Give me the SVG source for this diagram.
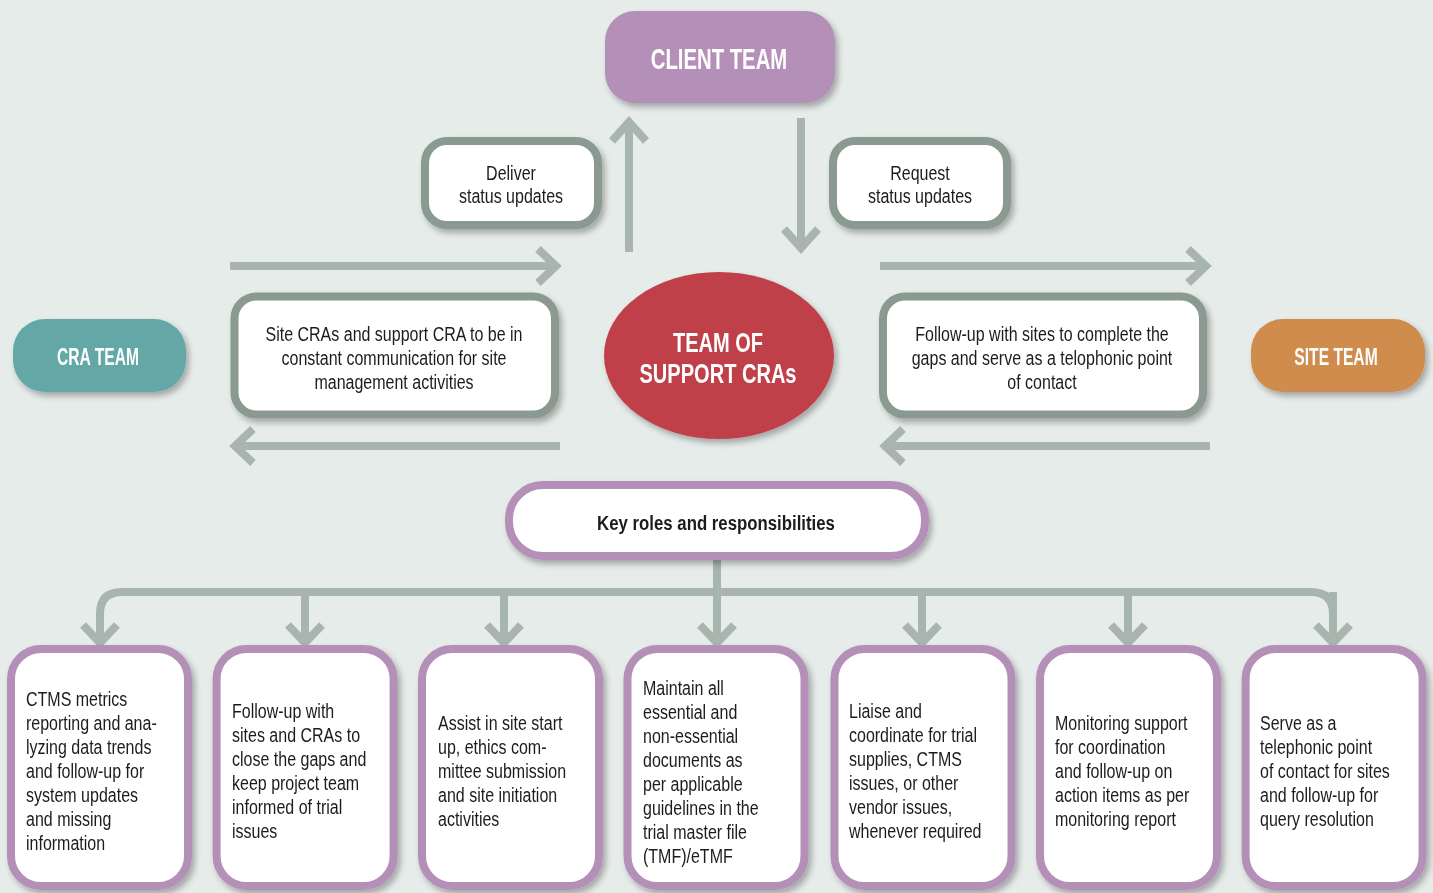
<svg xmlns="http://www.w3.org/2000/svg" width="1433" height="893" viewBox="0 0 1433 893">
<defs>
<filter id="sh" x="-20%" y="-20%" width="140%" height="150%">
<feGaussianBlur in="SourceAlpha" stdDeviation="3"/>
<feOffset dx="3" dy="4" result="b"/>
<feComponentTransfer><feFuncA type="linear" slope="0.3"/></feComponentTransfer>
<feMerge><feMergeNode/><feMergeNode in="SourceGraphic"/></feMerge>
</filter>
</defs>
<style>
text{font-family:"Liberation Sans",Arial,sans-serif;}
.team{font-weight:bold;fill:#fff;text-anchor:middle;}
.gbox{fill:#fff;stroke:#8a9a90;stroke-width:8;}
.pbox{fill:#fff;stroke:#b48fb8;stroke-width:8;}
.t{font-size:20px;fill:#1e1b1c;}
.c{text-anchor:middle;}
.ar{fill:none;stroke:#a8b5ae;stroke-width:8;stroke-linecap:butt;}
</style>
<rect width="1433" height="893" fill="#e6ecea"/>
<g id="connectors">
<path class="ar" d="M629 252V124M612 141L629 122L646 141"/>
<path class="ar" d="M801 118V246M784 229L801 248L818 229"/>
<path class="ar" d="M230 266H553M538 249L556 266L538 283"/>
<path class="ar" d="M880 266H1203M1188 249L1206 266L1188 283"/>
<path class="ar" d="M560 446H238M253 429L235 446L253 463"/>
<path class="ar" d="M1210 446H888M903 429L885 446L903 463"/>
<path class="ar" d="M717 558V592M100 640V614Q100 592 122 592H1311Q1333 592 1333 614V640M305 592V640M504 592V640M717 592V640M922 592V640M1128 592V640M1333 592V640"/>
<path class="ar" d="M83 625L100 643L117 625M288 625L305 643L322 625M487 625L504 643L521 625M700 625L717 643L734 625M905 625L922 643L939 625M1111 625L1128 643L1145 625M1316 625L1333 643L1350 625"/>
</g>
<g id="client" filter="url(#sh)">
<rect x="605" y="11" width="230" height="92" rx="30" fill="#b48fb8"/>
<text class="team" transform="translate(719 0) scale(0.7 1)" x="0" y="69" style="font-size:29px">CLIENT TEAM</text>
</g>
<g id="deliver" filter="url(#sh)">
<rect class="gbox" x="425" y="141" width="173" height="84" rx="22"/>
<text class="t c" transform="translate(511 0) scale(0.8 1)" x="0" y="180">Deliver</text>
<text class="t c" transform="translate(511 0) scale(0.8 1)" x="0" y="203">status updates</text>
</g>
<g id="request" filter="url(#sh)">
<rect class="gbox" x="833" y="141" width="174" height="84" rx="22"/>
<text class="t c" transform="translate(920 0) scale(0.8 1)" x="0" y="180">Request</text>
<text class="t c" transform="translate(920 0) scale(0.8 1)" x="0" y="203">status updates</text>
</g>
<g id="cra" filter="url(#sh)">
<rect x="13" y="319" width="173" height="73" rx="32" fill="#63a8a6"/>
<text class="team" transform="translate(98 0) scale(0.68 1)" x="0" y="365" style="font-size:23px">CRA TEAM</text>
</g>
<g id="site" filter="url(#sh)">
<rect x="1251" y="319" width="174" height="73" rx="32" fill="#cf8c4e"/>
<text class="team" transform="translate(1336 0) scale(0.68 1)" x="0" y="365" style="font-size:23px">SITE TEAM</text>
</g>
<g id="craComm" filter="url(#sh)">
<rect class="gbox" x="234.5" y="296.5" width="320.5" height="118" rx="22"/>
<g transform="translate(394 0) scale(0.8 1)">
<text class="t c" x="0" y="341">Site CRAs and support CRA to be in</text>
<text class="t c" x="0" y="365">constant communication for site</text>
<text class="t c" x="0" y="389">management activities</text>
</g>
</g>
<g id="siteComm" filter="url(#sh)">
<rect class="gbox" x="883" y="296.5" width="320" height="118" rx="22"/>
<g transform="translate(1042 0) scale(0.8 1)">
<text class="t c" x="0" y="341">Follow-up with sites to complete the</text>
<text class="t c" x="0" y="365">gaps and serve as a telophonic point</text>
<text class="t c" x="0" y="389">of contact</text>
</g>
</g>
<g id="support" filter="url(#sh)">
<ellipse cx="719" cy="355.5" rx="115" ry="83.5" fill="#c0414a"/>
<g transform="translate(718 0) scale(0.716 1)">
<text class="team" x="0" y="352" style="font-size:28px">TEAM OF</text>
<text class="team" x="0" y="383" style="font-size:28px">SUPPORT CRAs</text>
</g>
</g>
<g id="keyroles" filter="url(#sh)">
<rect class="pbox" x="509" y="485" width="416" height="71" rx="34"/>
<text class="c" transform="translate(716 0) scale(0.8 1)" x="0" y="530" style="font-weight:bold;font-size:21px;fill:#1e1b1c">Key roles and responsibilities</text>
</g>
<g id="r1" filter="url(#sh)">
<rect class="pbox" x="11" y="649" width="177" height="237" rx="30"/>
<text class="t" transform="translate(26 0) scale(0.8 1)"><tspan x="0" y="706">CTMS metrics</tspan><tspan x="0" y="730">reporting and ana-</tspan><tspan x="0" y="754">lyzing data trends</tspan><tspan x="0" y="778">and follow-up for</tspan><tspan x="0" y="802">system updates</tspan><tspan x="0" y="826">and missing</tspan><tspan x="0" y="850">information</tspan></text>
</g>
<g id="r2" filter="url(#sh)">
<rect class="pbox" x="216.6" y="649" width="177" height="237" rx="30"/>
<text class="t" transform="translate(232 0) scale(0.8 1)"><tspan x="0" y="718">Follow-up with</tspan><tspan x="0" y="742">sites and CRAs to</tspan><tspan x="0" y="766">close the gaps and</tspan><tspan x="0" y="790">keep project team</tspan><tspan x="0" y="814">informed of trial</tspan><tspan x="0" y="838">issues</tspan></text>
</g>
<g id="r3" filter="url(#sh)">
<rect class="pbox" x="422" y="649" width="177" height="237" rx="30"/>
<text class="t" transform="translate(438 0) scale(0.8 1)"><tspan x="0" y="730">Assist in site start</tspan><tspan x="0" y="754">up, ethics com-</tspan><tspan x="0" y="778">mittee submission</tspan><tspan x="0" y="802">and site initiation</tspan><tspan x="0" y="826">activities</tspan></text>
</g>
<g id="r4" filter="url(#sh)">
<rect class="pbox" x="627.5" y="649" width="177" height="237" rx="30"/>
<text class="t" transform="translate(643 0) scale(0.8 1)"><tspan x="0" y="695">Maintain all</tspan><tspan x="0" y="719">essential and</tspan><tspan x="0" y="743">non-essential</tspan><tspan x="0" y="767">documents as</tspan><tspan x="0" y="791">per applicable</tspan><tspan x="0" y="815">guidelines in the</tspan><tspan x="0" y="839">trial master file</tspan><tspan x="0" y="863">(TMF)/eTMF</tspan></text>
</g>
<g id="r5" filter="url(#sh)">
<rect class="pbox" x="834.5" y="649" width="177" height="237" rx="30"/>
<text class="t" transform="translate(849 0) scale(0.8 1)"><tspan x="0" y="718">Liaise and</tspan><tspan x="0" y="742">coordinate for trial</tspan><tspan x="0" y="766">supplies, CTMS</tspan><tspan x="0" y="790">issues, or other</tspan><tspan x="0" y="814">vendor issues,</tspan><tspan x="0" y="838">whenever required</tspan></text>
</g>
<g id="r6" filter="url(#sh)">
<rect class="pbox" x="1040" y="649" width="177" height="237" rx="30"/>
<text class="t" transform="translate(1055 0) scale(0.8 1)"><tspan x="0" y="730">Monitoring support</tspan><tspan x="0" y="754">for coordination</tspan><tspan x="0" y="778">and follow-up on</tspan><tspan x="0" y="802">action items as per</tspan><tspan x="0" y="826">monitoring report</tspan></text>
</g>
<g id="r7" filter="url(#sh)">
<rect class="pbox" x="1245.6" y="649" width="177" height="237" rx="30"/>
<text class="t" transform="translate(1260 0) scale(0.8 1)"><tspan x="0" y="730">Serve as a</tspan><tspan x="0" y="754">telephonic point</tspan><tspan x="0" y="778">of contact for sites</tspan><tspan x="0" y="802">and follow-up for</tspan><tspan x="0" y="826">query resolution</tspan></text>
</g>
</svg>
